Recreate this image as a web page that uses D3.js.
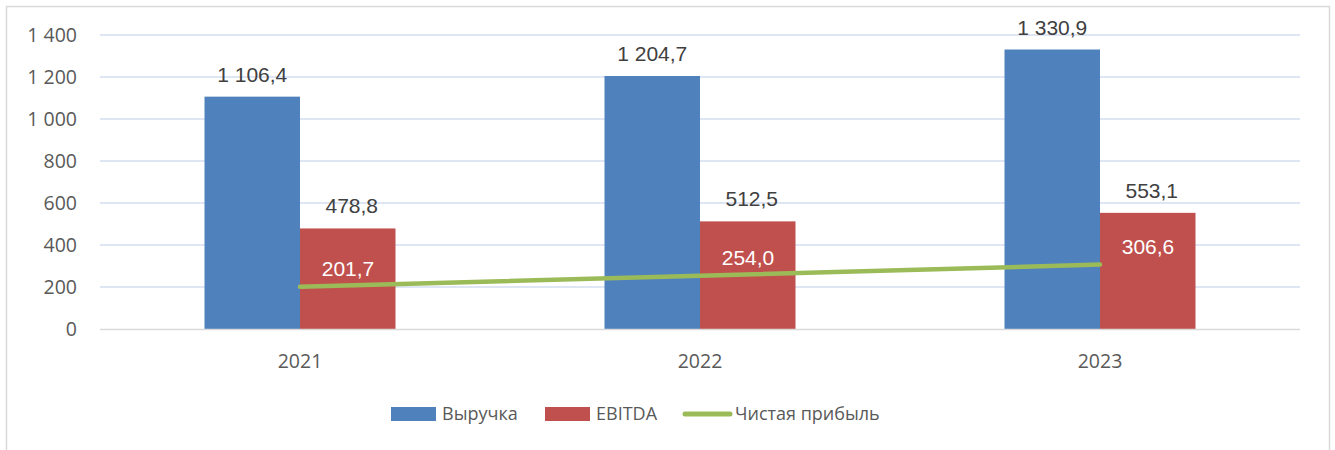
<!DOCTYPE html>
<html>
<head>
<meta charset="utf-8">
<script src="https://cdn.jsdelivr.net/npm/d3@7"></script>
<style>
  body { margin: 0; background: #fff; }
  svg { display: block; }
</style>
</head>
<body>
<div id="chart"></div>
<script>
// chart data
const years = ["2021", "2022", "2023"];
const revenue = [1106.4, 1204.7, 1330.9];
const ebitda = [478.8, 512.5, 553.1];
const netProfit = [201.7, 254.0, 306.6];
const yTicks = [0, 200, 400, 600, 800, 1000, 1200, 1400];
const seriesNames = ["Выручка", "EBITDA", "Чистая прибыль"];

const width = 1335, height = 450;
const colors = ["#4f81bd", "#c0504d", "#9bbb59"];

const ru = d3.formatLocale({decimal: ",", thousands: "\u00a0", grouping: [3], currency: ["", ""]});
const fmtTick = ru.format(",.0f");
const fmtVal = ru.format(",.1f");

const svg = d3.select("#chart").append("svg")
    .attr("width", width)
    .attr("height", height);

// outer frame
svg.append("rect")
    .attr("x", 6.5).attr("y", 6.5)
    .attr("width", 1323).attr("height", 460)
    .attr("fill", "none")
    .attr("stroke", "#d9d9d9")
    .attr("stroke-width", 1.5);

const x = d3.scaleBand().domain(years).range([100, 1300]);
const barW = 95.5;
const x1 = d3.scaleBand().domain([0, 1]).range([-barW, barW]);
const y = d3.scaleLinear().domain([0, 1400]).range([329, 35]);

// gridlines
svg.append("g").selectAll("line")
    .data(yTicks.filter(d => d > 0))
    .join("line")
    .attr("x1", 100).attr("x2", 1300)
    .attr("y1", d => y(d)).attr("y2", d => y(d))
    .attr("stroke", "#d3ddef")
    .attr("stroke-width", 1.5);

// y tick labels
svg.append("g").selectAll("text")
    .data(yTicks)
    .join("text")
    .attr("x", 77)
    .attr("y", d => y(d))
    .attr("dy", "0.36em")
    .attr("text-anchor", "end")
    .attr("font-family", "'Open Sans', sans-serif")
    .attr("font-size", 19.5)
    .attr("fill", "#595959")
    .text(d => fmtTick(d));

// bars
const barData = [];
years.forEach((yr, i) => {
    barData.push({yr: yr, s: 0, v: revenue[i]});
    barData.push({yr: yr, s: 1, v: ebitda[i]});
});
const cx = yr => x(yr) + x.bandwidth() / 2;

svg.append("g").selectAll("rect")
    .data(barData)
    .join("rect")
    .attr("x", d => cx(d.yr) + x1(d.s))
    .attr("y", d => y(d.v))
    .attr("width", x1.bandwidth())
    .attr("height", d => y(0) - y(d.v))
    .attr("fill", d => colors[d.s]);

// baseline
svg.append("line")
    .attr("x1", 100).attr("x2", 1300)
    .attr("y1", y(0) + 0.5).attr("y2", y(0) + 0.5)
    .attr("stroke", "#d9d9d9")
    .attr("stroke-width", 1.5);

// bar value labels
svg.append("g").selectAll("text")
    .data(barData)
    .join("text")
    .attr("x", d => cx(d.yr) + x1(d.s) + x1.bandwidth() / 2 + (d.s ? 4 : 0))
    .attr("y", d => y(d.v) - 15)
    .attr("text-anchor", "middle")
    .attr("font-family", "'Liberation Sans', Arial, sans-serif")
    .attr("font-size", 21)
    .attr("fill", "#404040")
    .text(d => fmtVal(d.v));

// net profit line
const lineData = years.map((yr, i) => ({yr: yr, v: netProfit[i]}));
svg.append("path")
    .datum(lineData)
    .attr("d", d3.line().x(d => cx(d.yr)).y(d => y(d.v)))
    .attr("fill", "none")
    .attr("stroke", colors[2])
    .attr("stroke-width", 4.5)
    .attr("stroke-linecap", "round");

svg.append("g").selectAll("text")
    .data(lineData)
    .join("text")
    .attr("x", d => cx(d.yr) + 48)
    .attr("y", d => y(d.v) - 11)
    .attr("text-anchor", "middle")
    .attr("font-family", "'Liberation Sans', Arial, sans-serif")
    .attr("font-size", 21)
    .attr("fill", "#ffffff")
    .text(d => fmtVal(d.v));

// x labels
svg.append("g").selectAll("text")
    .data(years)
    .join("text")
    .attr("x", d => cx(d))
    .attr("y", 368)
    .attr("text-anchor", "middle")
    .attr("font-family", "'Open Sans', sans-serif")
    .attr("font-size", 19.5)
    .attr("fill", "#595959")
    .text(d => d);

// legend
const legX = [391, 545, 683];
const leg = svg.append("g");
seriesNames.forEach((name, i) => {
    if (i < 2) {
        leg.append("rect")
            .attr("x", legX[i]).attr("y", 407)
            .attr("width", 45).attr("height", 14)
            .attr("fill", colors[i]);
    } else {
        leg.append("line")
            .attr("x1", legX[i] + 2).attr("x2", legX[i] + 47)
            .attr("y1", 414).attr("y2", 414)
            .attr("stroke", colors[i])
            .attr("stroke-width", 5)
            .attr("stroke-linecap", "round");
    }
    leg.append("text")
        .attr("x", legX[i] + (i < 2 ? 51 : 52))
        .attr("y", 414)
        .attr("dy", "0.36em")
        .attr("font-family", "'Open Sans', sans-serif")
        .attr("font-size", 18)
        .attr("fill", "#595959")
        .text(name);
});
</script>
</body>
</html>
